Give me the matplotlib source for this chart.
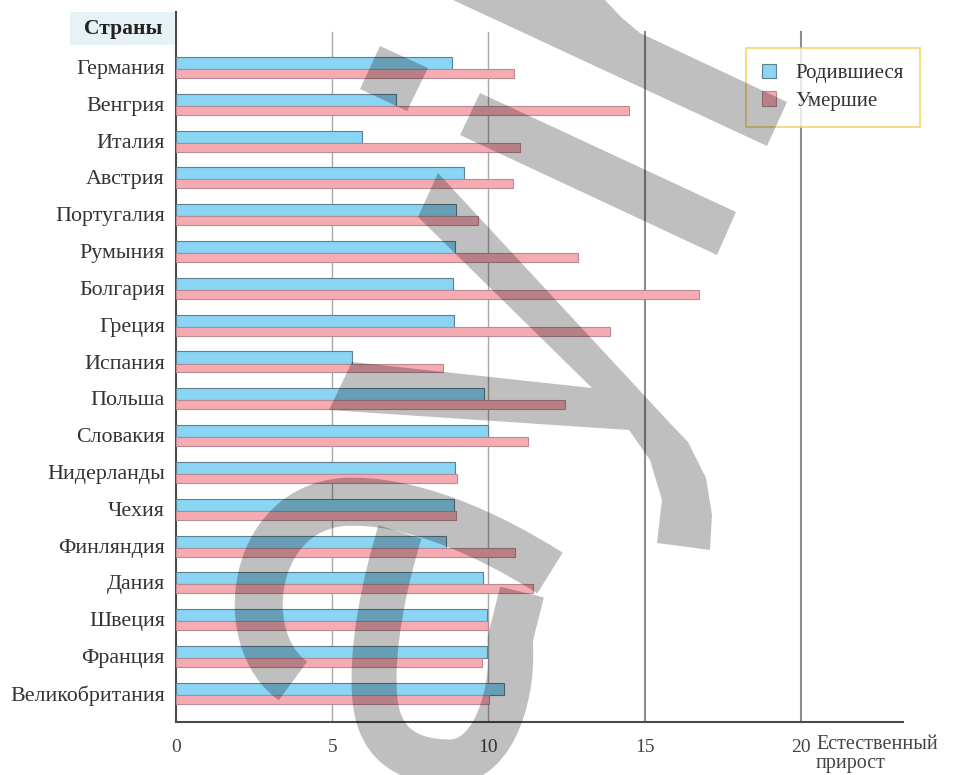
import numpy as np
import matplotlib.pyplot as plt
from matplotlib.patches import Polygon, Rectangle, PathPatch
from matplotlib.path import Path

countries = ['Германия', 'Венгрия', 'Италия', 'Австрия', 'Португалия', 'Румыния',
             'Болгария', 'Греция', 'Испания', 'Польша', 'Словакия', 'Нидерланды',
             'Чехия', 'Финляндия', 'Дания', 'Швеция', 'Франция', 'Великобритания']
born = [8.82, 7.04, 5.94, 9.22, 8.96, 8.93, 8.86, 8.90, 5.63, 9.87, 9.99, 8.93,
        8.89, 8.64, 9.83, 9.96, 9.94, 10.50]
died = [10.82, 14.49, 11.01, 10.79, 9.65, 12.85, 16.75, 13.89, 8.53, 12.45, 11.25, 8.98,
        8.95, 10.85, 11.41, 9.99, 9.78, 10.03]
xticks = [0, 5, 10, 15, 20]
legend_labels = ['Родившиеся', 'Умершие']
header = 'Страны'
xlabel = 'Естественный\nприрост'

W, H = 962, 775
serif = 'Liberation Serif'
blue, blue_edge = '#8ad4f4', '#5f7f8c'
pink, pink_edge = '#f6abb3', '#b98a90'

fig = plt.figure(figsize=(W / 100, H / 100), dpi=100)
ax = fig.add_axes([176 / W, 1 - 722 / H, (903 - 176) / W, (722 - 12) / H])

y = np.arange(len(countries))
ax.barh(y - 0.11, born, height=0.33, color=blue, edgecolor=blue_edge, linewidth=0.8, zorder=3)
ax.barh(y + 0.175, died, height=0.24, color=pink, edgecolor=pink_edge, linewidth=0.8, zorder=3)

ax.set_xlim(0, (903 - 176) / 31.25)
ax.set_ylim(17.79, -1.494)

for v in xticks[1:]:
    strong = v >= 15
    ax.axvline(v, ymin=0, ymax=0.972, color='#8c8c8c' if strong else '#a8a8a8',
               lw=1.5 if strong else 1.0, zorder=1)

ax.set_xticks(xticks)
ax.set_xticklabels([str(v) for v in xticks], family=serif, fontsize=14, color='#444444')
ax.set_yticks(y)
ax.set_yticklabels(countries, family=serif, fontsize=15.8, color='#333333')
ax.tick_params(axis='x', length=0, pad=12)
ax.tick_params(axis='y', length=0, pad=8)
for s in ['top', 'right']:
    ax.spines[s].set_visible(False)
for s in ['left', 'bottom']:
    ax.spines[s].set_color('#4a4a4a')
    ax.spines[s].set_linewidth(1.5)

# header box "Страны"
fig.patches.append(Rectangle((70 / W, 1 - 45 / H), 105 / W, 33 / H, transform=fig.transFigure,
                             facecolor='#e6f2f6', edgecolor='none', zorder=0))
fig.text(123 / W, 1 - 29 / H, header, family=serif, fontsize=15.5, fontweight='bold',
         color='#222222', ha='center', va='center')

fig.text(816 / W, 1 - 735 / H, xlabel, family=serif, fontsize=14.5, color='#444444',
         ha='left', va='top', linespacing=1.0)

handles = [Rectangle((0, 0), 1, 1, facecolor=blue, edgecolor=blue_edge, lw=0.8),
           Rectangle((0, 0), 1, 1, facecolor=pink, edgecolor=pink_edge, lw=0.8)]
leg = ax.legend(handles, legend_labels, loc='upper left',
                bbox_to_anchor=(746 / W, 1 - 48 / H), bbox_transform=fig.transFigure,
                prop={'family': serif, 'size': 15}, frameon=True, fancybox=False,
                handlelength=0.68, handleheight=0.68, handletextpad=0.95,
                borderpad=0.75, labelspacing=0.4, borderaxespad=0)
leg.get_frame().set_edgecolor('#f0d060')
leg.get_frame().set_linewidth(1.3)
for t in leg.get_texts():
    t.set_color('#333333')

# grey watermark drawn over the chart
ov = fig.add_axes([0, 0, 1, 1], zorder=10)
ov.set_xlim(0, W)
ov.set_ylim(H, 0)
ov.axis('off')
ov.patch.set_alpha(0)
wm = dict(facecolor='k', edgecolor='none', alpha=0.25)
shapes = [
    [(380, 46), (428, 68), (407, 111), (360, 89)],
    [(453, 0), (605, 0), (622, 18), (640, 33), (787, 102), (767, 146)],
    [(480, 93), (736, 212), (717, 255), (460, 135)],
    [(438, 173), (667, 420), (688, 442), (706, 478), (712, 515), (710, 550), (657, 543),
     (662, 500), (650, 460), (629, 430), (329, 410), (352, 362), (592, 388), (418, 217)],
]
for pts in shapes:
    ov.add_patch(Polygon(pts, closed=True, **wm))

C4 = Path.CURVE4
loop1 = Path([(293, 681), (235, 640), (250, 510), (343, 502),
              (410, 498), (490, 535), (550, 573)],
             [Path.MOVETO, C4, C4, C4, C4, C4, C4])
loop2 = Path([(400, 532), (385, 580), (370, 650), (375, 700),
              (380, 750), (415, 762), (450, 762),
              (495, 762), (515, 690), (510, 640), (522, 592)],
             [Path.MOVETO, C4, C4, C4, C4, C4, C4, C4, C4, C4, Path.LINETO])
for p, w in [(loop1, 48), (loop2, 45)]:
    ov.add_patch(PathPatch(p, facecolor='none', edgecolor='k', alpha=0.25,
                           lw=w * 0.72, capstyle='butt', joinstyle='round'))

fig.savefig('out.png', dpi=100)
